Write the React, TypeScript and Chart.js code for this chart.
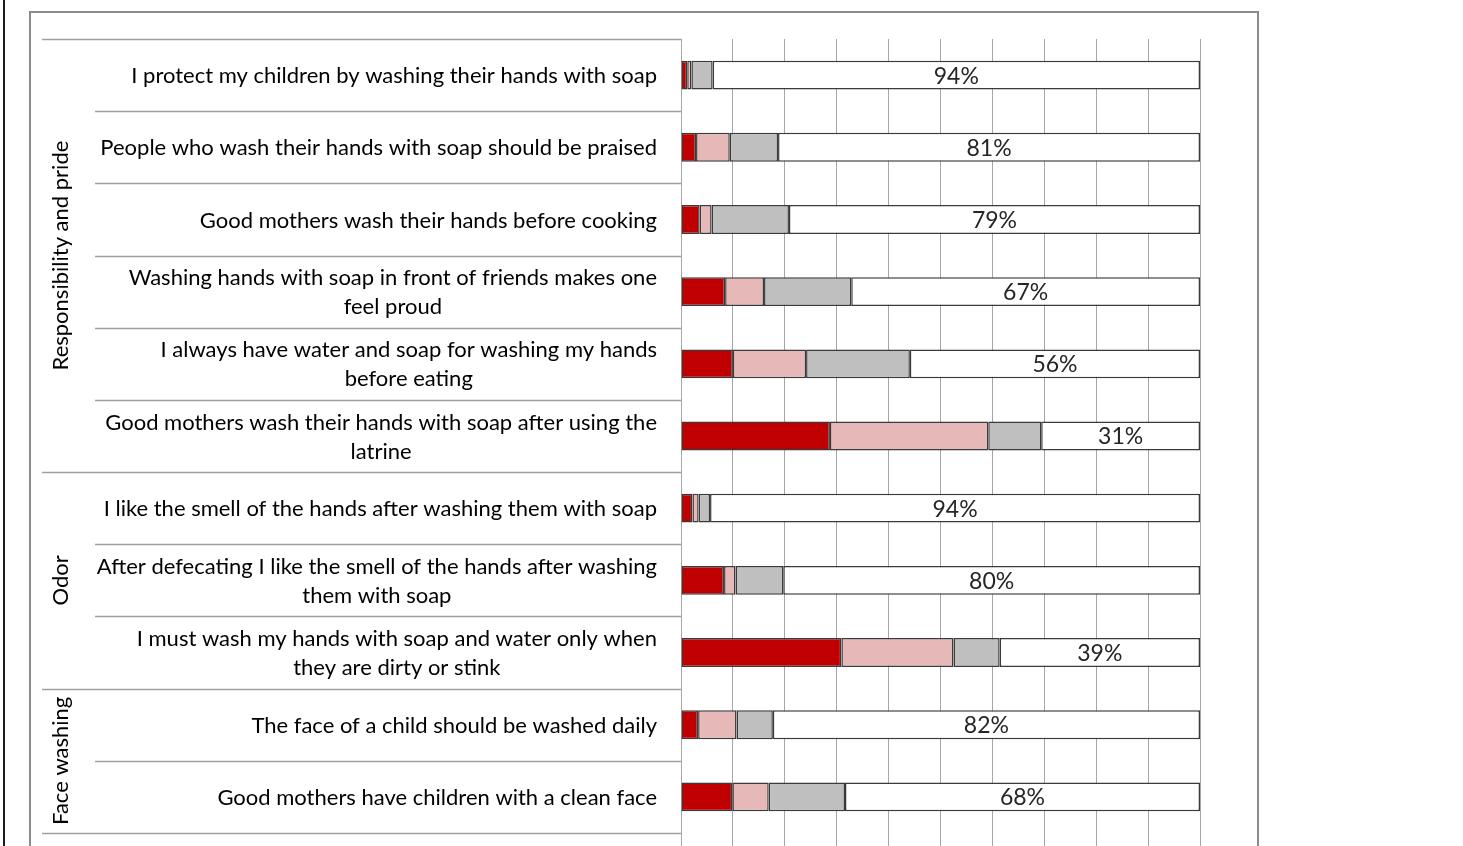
import React, { useEffect, useRef } from "react";
import { Chart, registerables } from "chart.js";
Chart.register(...registerables);

const categories: string[][] = [
  ["I protect my children by washing their hands with soap"],
  ["People who wash their hands with soap should be praised"],
  ["Good mothers wash their hands before cooking"],
  ["Washing hands with soap in front of friends makes one", "feel proud"],
  ["I always have water and soap for washing my hands", "before eating"],
  ["Good mothers wash their hands with soap after using the", "latrine"],
  ["I like the smell of the hands after washing them with soap"],
  ["After defecating I like the smell of the hands after washing", "them with soap"],
  ["I must wash my hands with soap and water only when", "they are dirty or stink"],
  ["The face of a child should be washed daily"],
  ["Good mothers have children with a clean face"],
];

const groupNames = ["Responsibility and pride", "Odor", "Face washing"];
const groupStarts = [0, 6, 9];
const groupEnds = [5, 8, 10];

const stronglyDisagree = [1.2, 2.9, 3.6, 8.5, 10.0, 28.7, 2.2, 8.3, 30.9, 3.3, 9.9];
const disagree = [0.8, 6.5, 2.3, 7.5, 14.1, 30.5, 1.2, 2.2, 21.6, 7.4, 7.0];
const neutral = [4.1, 9.3, 14.9, 16.8, 20.0, 10.2, 2.2, 9.2, 8.9, 7.0, 14.7];
const agree = [93.9, 81.3, 79.2, 67.2, 55.9, 30.6, 94.4, 80.3, 38.6, 82.3, 68.4];

const xTicks = [0, 10, 20, 30, 40, 50, 60, 70, 80, 90, 100];

const FONT = "Lato";
const CAT_SIZE = 22;
const LINE_H = 29;

const decorPlugin = {
  id: "decor",
  beforeDraw(chart: any) {
    const ctx = chart.ctx;
    ctx.save();
    ctx.fillStyle = "#ffffff";
    ctx.fillRect(0, 0, chart.width, chart.height);
    ctx.fillStyle = "#1a1a1a";
    ctx.fillRect(3, 0, 2, chart.height);
    ctx.strokeStyle = "#8c8c8c";
    ctx.lineWidth = 2;
    ctx.strokeRect(30, 12, 1228, 950);
    ctx.restore();
  },
  afterDraw(chart: any) {
    const ctx = chart.ctx;
    const { left, top, bottom } = chart.chartArea;
    const ys = chart.scales.y;
    const n = categories.length;
    const boundary = (k: number) => {
      if (k <= 0) return top;
      if (k >= n) return bottom;
      return (ys.getPixelForValue(k - 1) + ys.getPixelForValue(k)) / 2;
    };
    ctx.save();
    ctx.strokeStyle = "#a0a0a0";
    ctx.lineWidth = 1.5;
    const groupBounds = new Set<number>();
    groupStarts.forEach((s) => groupBounds.add(s));
    groupEnds.forEach((e) => groupBounds.add(e + 1));
    for (let k = 0; k <= n; k++) {
      const y = Math.round(boundary(k)) + 0.5;
      const x0 = groupBounds.has(k) ? 42 : 95;
      ctx.beginPath();
      ctx.moveTo(x0, y);
      ctx.lineTo(left, y);
      ctx.stroke();
    }
    // category labels
    ctx.fillStyle = "#000000";
    ctx.font = `${CAT_SIZE}px ${FONT}`;
    ctx.textBaseline = "middle";
    ctx.textAlign = "center";
    const right = left - 24;
    categories.forEach((lines, i) => {
      const cy = ys.getPixelForValue(i) + 1;
      const maxW = Math.max(...lines.map((l) => ctx.measureText(l).width));
      const cx = right - maxW / 2;
      const y0 = cy - ((lines.length - 1) * LINE_H) / 2;
      lines.forEach((l, j) => ctx.fillText(l, cx, y0 + j * LINE_H));
    });
    // group labels
    groupNames.forEach((g, i) => {
      const cy = (boundary(groupStarts[i]) + boundary(groupEnds[i] + 1)) / 2;
      ctx.save();
      ctx.translate(61, cy);
      ctx.rotate(-Math.PI / 2);
      ctx.fillText(g, 0, 0);
      ctx.restore();
    });
    // value labels in the agree segment
    const meta = chart.getDatasetMeta(3);
    ctx.font = `23px ${FONT}`;
    ctx.fillStyle = "#262626";
    meta.data.forEach((el: any, i: number) => {
      const p = el.getProps(["x", "y", "base"], true);
      ctx.fillText(`${Math.round(agree[i])}%`, (p.x + p.base) / 2, p.y + 1);
    });
    ctx.restore();
  },
};

export default function App() {
  const ref = useRef<HTMLCanvasElement | null>(null);
  useEffect(() => {
    if (!ref.current) return;
    const ds = (label: string, data: number[], color: string) => ({
      label,
      data,
      backgroundColor: color,
      borderColor: "#3a3a3a",
      borderWidth: 1.5,
      borderSkipped: false,
      barPercentage: 0.4,
      categoryPercentage: 1,
    });
    const chart = new Chart(ref.current, {
      type: "bar",
      data: {
        labels: categories.map((c) => c.join(" ")),
        datasets: [
          ds("Strongly disagree", stronglyDisagree, "#C00000"),
          ds("Disagree", disagree, "#E6B9B8"),
          ds("Neutral", neutral, "#BFBFBF"),
          ds("Agree", agree, "#FFFFFF"),
        ],
      },
      options: {
        indexAxis: "y",
        responsive: false,
        animation: false,
        devicePixelRatio: 1,
        layout: { padding: { left: 681, right: 263, top: 39, bottom: 0 } },
        plugins: { legend: { display: false }, tooltip: { enabled: false } },
        scales: {
          x: {
            stacked: true,
            min: 0,
            max: 100,
            afterBuildTicks: (s: any) => {
              s.ticks = xTicks.map((v) => ({ value: v }));
            },
            afterFit: (s: any) => {
              s.height = 900 - 833;
            },
            ticks: { display: false },
            border: { display: false },
            grid: { color: "#a6a6a6", lineWidth: 1, tickLength: 30, drawTicks: true },
          },
          y: {
            stacked: true,
            afterFit: (s: any) => {
              s.width = 0;
            },
            ticks: { display: false },
            border: { display: false },
            grid: { display: false },
          },
        },
      },
      plugins: [decorPlugin],
    } as any);
    return () => chart.destroy();
  }, []);
  return (
    <div style={{ position: "fixed", left: 0, top: 0, width: 1463, height: 846, overflow: "hidden", background: "#fff" }}>
      <canvas ref={ref} width={1463} height={900} style={{ display: "block", width: 1463, height: 900 }} />
    </div>
  );
}
